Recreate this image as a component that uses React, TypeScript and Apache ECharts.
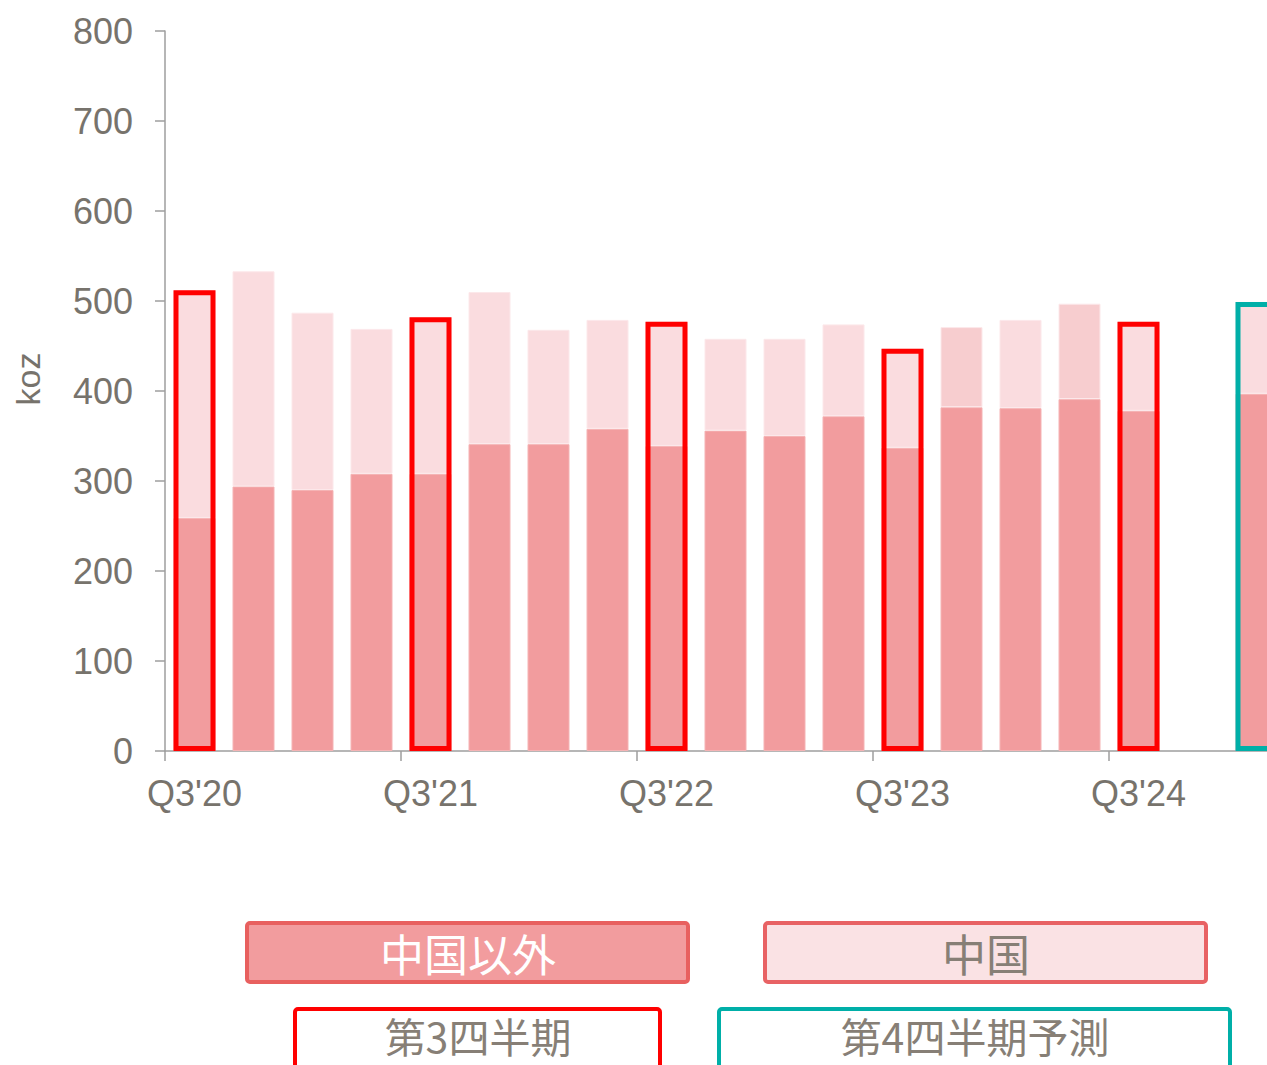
import React, { useEffect, useRef } from "react";
import * as echarts from "echarts";

const categories = [
  "Q3'20", "Q4'20", "Q1'21", "Q2'21", "Q3'21", "Q4'21", "Q1'22", "Q2'22",
  "Q3'22", "Q4'22", "Q1'23", "Q2'23", "Q3'23", "Q4'23", "Q1'24", "Q2'24",
  "Q3'24", "Q4'24", "Q4'24予測",
];
// Outside China (bottom) and total, koz
const outsideChina: (number | null)[] = [
  259, 294, 290, 308, 308, 341, 341, 358, 339, 356, 350, 372, 337, 382, 381, 391, 378, null, 397,
];
const totals: (number | null)[] = [
  512, 533, 487, 469, 482, 510, 468, 479, 477, 458, 458, 474, 447, 471, 479, 497, 477, null, 499,
];
const china = totals.map((t, i) => (t == null || outsideChina[i] == null ? null : t - (outsideChina[i] as number)));
const q3Indices = [0, 4, 8, 12, 16];
const forecastIndices = [18];
const darkerChinaIndices = [13, 15];
const yTicks = { min: 0, max: 800, interval: 100 };
const yName = "koz";
const legendLabels = ["中国以外", "中国", "第3四半期", "第4四半期予測"];

export default function App() {
  const ref = useRef<HTMLDivElement>(null);
  useEffect(() => {
    if (!ref.current) return;
    const chart = echarts.init(ref.current, null, { renderer: "svg" });
    const axisGray = "#9e9e9e";
    const textGray = "#77736c";
    const legendGray = "#877f76";
    const font = "'Liberation Sans', Arial, sans-serif";
    const cjk = "'Noto Sans CJK JP', 'Noto Sans', sans-serif";

    const outlineData = categories.map((_, i) => {
      if (q3Indices.includes(i)) {
        return { value: totals[i], itemStyle: { color: "rgba(0,0,0,0)", borderColor: "#ff0000", borderWidth: 5 } };
      }
      if (forecastIndices.includes(i)) {
        return { value: totals[i], itemStyle: { color: "rgba(0,0,0,0)", borderColor: "#00afa8", borderWidth: 5 } };
      }
      return "-";
    });

    chart.setOption({
      animation: false,
      backgroundColor: "#ffffff",
      grid: { left: 165, top: 31, width: 59 * categories.length, height: 720, containLabel: false },
      xAxis: {
        type: "category",
        data: categories,
        axisLine: { show: true, lineStyle: { color: axisGray, width: 1.5 } },
        axisTick: { show: true, length: 10, lineStyle: { color: axisGray, width: 1.5 } },
        axisLabel: {
          interval: 3,
          color: textGray,
          fontSize: 36,
          fontFamily: font,
          margin: 24,
        },
      },
      yAxis: {
        type: "value",
        min: yTicks.min,
        max: yTicks.max,
        interval: yTicks.interval,
        axisLine: { show: true, lineStyle: { color: axisGray, width: 1.5 } },
        axisTick: { show: true, length: 10, lineStyle: { color: axisGray, width: 1.5 } },
        splitLine: { show: false },
        axisLabel: { color: textGray, fontSize: 36, fontFamily: font, margin: 32 },
      },
      series: [
        {
          name: "中国以外",
          type: "bar",
          stack: "total",
          barWidth: 42,
          data: outsideChina.map((v) => (v == null ? "-" : v)),
          itemStyle: { color: "#f29c9e", borderColor: "#f5b3b4", borderWidth: 1 },
        },
        {
          name: "中国",
          type: "bar",
          stack: "total",
          barWidth: 42,
          data: china.map((v, i) =>
            v == null
              ? "-"
              : darkerChinaIndices.includes(i)
              ? { value: v, itemStyle: { color: "#f7cdcf" } }
              : v
          ),
          itemStyle: { color: "#fadcdf", borderColor: "#fce8ea", borderWidth: 1 },
        },
        {
          name: "outline",
          type: "bar",
          barWidth: 42,
          barGap: "-100%",
          z: 5,
          data: outlineData,
        },
      ],
      graphic: [
        {
          type: "text",
          x: 28,
          y: 379,
          rotation: Math.PI / 2,
          style: { text: yName, fill: textGray, fontSize: 34, fontFamily: font, align: "center", verticalAlign: "middle" },
        },
        {
          type: "rect",
          shape: { x: 247, y: 923, width: 441, height: 59, r: 3 },
          style: { fill: "#f29c9e", stroke: "#e8605f", lineWidth: 4 },
        },
        {
          type: "text",
          x: 468,
          y: 953,
          style: { text: legendLabels[0], fill: "#ffffff", fontSize: 44, fontFamily: cjk, align: "center", verticalAlign: "middle" },
        },
        {
          type: "rect",
          shape: { x: 765, y: 923, width: 441, height: 59, r: 3 },
          style: { fill: "#fae2e4", stroke: "#e86264", lineWidth: 4 },
        },
        {
          type: "text",
          x: 986,
          y: 953,
          style: { text: legendLabels[1], fill: legendGray, fontSize: 44, fontFamily: cjk, align: "center", verticalAlign: "middle" },
        },
        {
          type: "rect",
          shape: { x: 295, y: 1009, width: 365, height: 80, r: 3 },
          style: { fill: "#ffffff", stroke: "#ff0000", lineWidth: 4 },
        },
        {
          type: "text",
          x: 478,
          y: 1035,
          style: { text: legendLabels[2], fill: legendGray, fontSize: 41, fontFamily: cjk, align: "center", verticalAlign: "middle" },
        },
        {
          type: "rect",
          shape: { x: 719, y: 1009, width: 511, height: 80, r: 3 },
          style: { fill: "#ffffff", stroke: "#00afa8", lineWidth: 4 },
        },
        {
          type: "text",
          x: 975,
          y: 1035,
          style: { text: legendLabels[3], fill: legendGray, fontSize: 41, fontFamily: cjk, align: "center", verticalAlign: "middle" },
        },
      ],
    });
    return () => chart.dispose();
  }, []);
  return (
    <div style={{ position: "absolute", left: 0, top: 0, width: 1267, height: 1065, overflow: "hidden", background: "#fff" }}>
      <div ref={ref} style={{ width: 1300, height: 1065 }} />
    </div>
  );
}
